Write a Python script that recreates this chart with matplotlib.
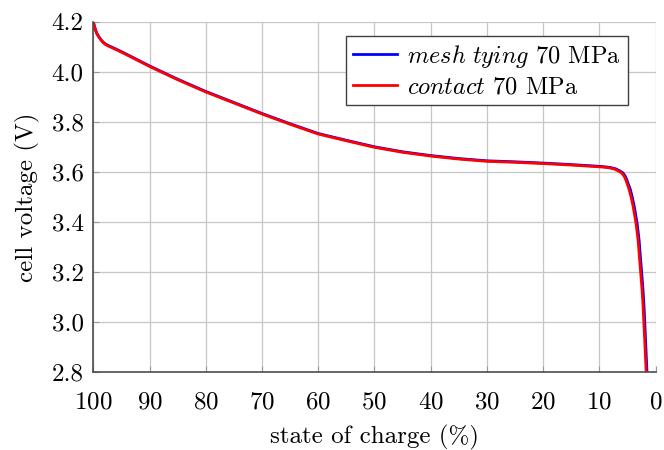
import numpy as np
import matplotlib.pyplot as plt
from matplotlib.ticker import FormatStrFormatter, MultipleLocator

plt.rcParams['font.family'] = 'serif'
plt.rcParams['font.serif'] = ['cmr10']
plt.rcParams['mathtext.fontset'] = 'cm'
plt.rcParams['axes.formatter.use_mathtext'] = True
plt.rcParams['font.size'] = 18

# discharge curves, state of charge (%) vs cell voltage (V)
soc_contact = [100, 99.8, 99.4, 99.0, 98.6, 98.2, 97.8, 97.2, 96.4, 95, 93.5, 90, 85, 80,
               75, 70, 65, 60, 55, 50, 45, 40, 35, 30, 25, 20, 15, 10, 9, 8, 7.2, 6.5,
               6.0, 5.6, 5.3, 5.0, 4.7, 4.35, 4.0, 3.5, 3.13, 2.9, 2.66, 2.42, 2.24,
               1.95, 1.7]
v_contact = [4.200, 4.180, 4.153, 4.138, 4.125, 4.115, 4.108, 4.101, 4.093, 4.078, 4.061,
             4.021, 3.968, 3.919, 3.875, 3.831, 3.790, 3.751, 3.724, 3.698, 3.678, 3.663,
             3.651, 3.642, 3.638, 3.633, 3.627, 3.620, 3.618, 3.615, 3.610, 3.602, 3.594,
             3.582, 3.567, 3.548, 3.527, 3.497, 3.460, 3.394, 3.327, 3.260, 3.194, 3.127,
             3.060, 2.927, 2.800]

soc_mesh = [100, 99.8, 99.4, 99.0, 98.6, 98.2, 97.8, 97.2, 96.4, 95, 93.5, 90, 85, 80,
            75, 70, 65, 60, 55, 50, 45, 40, 35, 30, 25, 20, 15, 10, 9, 8, 7.1, 6.4,
            5.85, 5.45, 5.15, 4.85, 4.5, 4.15, 3.8, 3.3, 2.95, 2.72, 2.48, 2.25, 2.07,
            1.8, 1.55]
v_mesh = [4.200, 4.181, 4.154, 4.139, 4.127, 4.117, 4.110, 4.103, 4.095, 4.080, 4.063,
          4.023, 3.970, 3.921, 3.877, 3.833, 3.792, 3.753, 3.726, 3.700, 3.680, 3.665,
          3.653, 3.644, 3.640, 3.635, 3.629, 3.622, 3.620, 3.617, 3.612, 3.604, 3.596,
          3.584, 3.569, 3.550, 3.529, 3.497, 3.460, 3.394, 3.327, 3.260, 3.194, 3.127,
          3.060, 2.927, 2.800]

fig = plt.figure(figsize=(6.64, 4.5), dpi=100)
ax = fig.add_axes([0.1405, 0.173, 0.847, 0.779])

ax.plot(soc_mesh, v_mesh, color='blue', lw=2, solid_joinstyle='round',
        label=r'$\mathit{mesh\ tying}$ 70 MPa')
ax.plot(soc_contact, v_contact, color='red', lw=2, solid_joinstyle='round',
        label=r'$\mathit{contact}$ 70 MPa')

ax.set_xlim(100, 0)
ax.set_ylim(2.8, 4.2)
ax.xaxis.set_major_locator(MultipleLocator(10))
ax.yaxis.set_major_locator(MultipleLocator(0.2))
ax.yaxis.set_major_formatter(FormatStrFormatter('%.1f'))
ax.grid(True, color='0.78', lw=0.9)
ax.set_axisbelow(True)
ax.tick_params(direction='in', length=4, color='0.6')
ax.tick_params(axis='x', pad=14)
ax.tick_params(axis='y', pad=7)

for s in ['top', 'right']:
    ax.spines[s].set_visible(False)
for s in ['left', 'bottom']:
    ax.spines[s].set_color('0.3')
    ax.spines[s].set_linewidth(1.2)

ax.set_xlabel('state of charge (%)', labelpad=8)
ax.set_ylabel('cell voltage (V)', labelpad=8)

leg = ax.legend(loc='upper right', bbox_to_anchor=(0.95, 0.96), fancybox=False,
                edgecolor='0.25', framealpha=1, handlelength=1.8, handletextpad=0.4,
                borderpad=0.3, labelspacing=0.25, borderaxespad=0, fontsize=17.5)
leg.get_frame().set_linewidth(1.0)

fig.savefig('out.png', dpi=100)
